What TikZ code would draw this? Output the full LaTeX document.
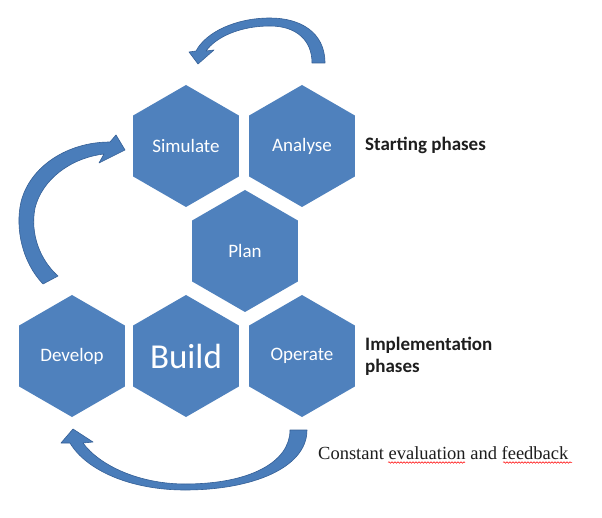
\documentclass[tikz,border=0pt]{standalone}
\usepackage{fontspec}
\setmainfont{Liberation Serif}
\newfontfamily\calibri{Carlito}
\usetikzlibrary{shapes.geometric,decorations.pathmorphing}
\definecolor{hexblue}{RGB}{79,129,189}
\definecolor{arrowblue}{RGB}{74,125,186}
\definecolor{arrowedge}{RGB}{52,95,150}
\definecolor{txtgray}{RGB}{30,30,30}
\tikzset{
  hexa/.style={regular polygon, regular polygon sides=6, shape border rotate=30,
    minimum size=122pt, inner sep=0pt, fill=hexblue, draw=none,
    text=white, font=\calibri\fontsize{19}{22}\selectfont},
  bigtext/.style={font=\calibri\fontsize{35}{40}\selectfont},
  curvearrow/.style={fill=arrowblue, draw=arrowedge, line width=0.6pt, line join=round},
  phaselabel/.style={font=\calibri\bfseries\fontsize{19}{22}\selectfont, text=txtgray, anchor=west, align=left, inner sep=0pt},
  spell/.style={draw=red, line width=0.5pt, decorate, decoration={snake, amplitude=0.8pt, segment length=3pt}}
}
\begin{document}
\begin{tikzpicture}[x=1pt,y=-1pt]
\useasboundingbox (0,0) rectangle (602,518);
\fill[white] (0,0) rectangle (602,518);
% hexagons
\node[hexa] (sim) at (186,146) {Simulate};
\node[hexa] (ana) at (302,146) {Analyse};
\node[hexa] (plan) at (245,251) {Plan};
\node[hexa] (dev) at (72,356) {Develop};
\node[hexa,bigtext] (build) at (186,356) {Build};
\node[hexa] (op) at (302,356) {Operate};
% labels
\node[phaselabel] (start) at (365,145) {Starting phases};
\node[phaselabel] (impl) at (365,356) {Implementation\\phases};
\node[anchor=west, inner sep=0pt, text=txtgray, font=\fontsize{18.5}{22}\selectfont] (const) at (318,453) {Constant evaluation and feedback};
\draw[spell] (388,462.5) -- (465,462.5);
\draw[spell] (503,462.5) -- (572,462.5);
% top arrow (Analyse -> Simulate)
\draw[curvearrow] (325,63) .. controls (325,32) and (300,18) .. (270,18)
  .. controls (236,18) and (206,32) .. (196,51)
  -- (189,52) -- (198,64) -- (214,50) -- (206,51)
  .. controls (216,37) and (240,26) .. (270,26)
  .. controls (296,26) and (312,40) .. (312,63) -- cycle;
% left arrow (Develop -> Simulate)
\draw[curvearrow] (43,284) .. controls (22,262) and (15,228) .. (21,202)
  .. controls (30,166) and (68,142) .. (110,142)
  -- (116,135) -- (125,150) -- (99,163) -- (104,154)
  .. controls (70,158) and (42,180) .. (35,208)
  .. controls (30,234) and (40,260) .. (58,276) -- cycle;
% bottom arrow (Operate -> Develop)
\draw[curvearrow] (307,430) .. controls (307,468) and (252,490) .. (185,490)
  .. controls (130,490) and (86,470) .. (70,443)
  -- (61,443) -- (73,429) -- (93,442) -- (83,443)
  .. controls (100,466) and (140,484) .. (185,484)
  .. controls (250,484) and (290,462) .. (290,430) -- cycle;
\end{tikzpicture}
\end{document}
